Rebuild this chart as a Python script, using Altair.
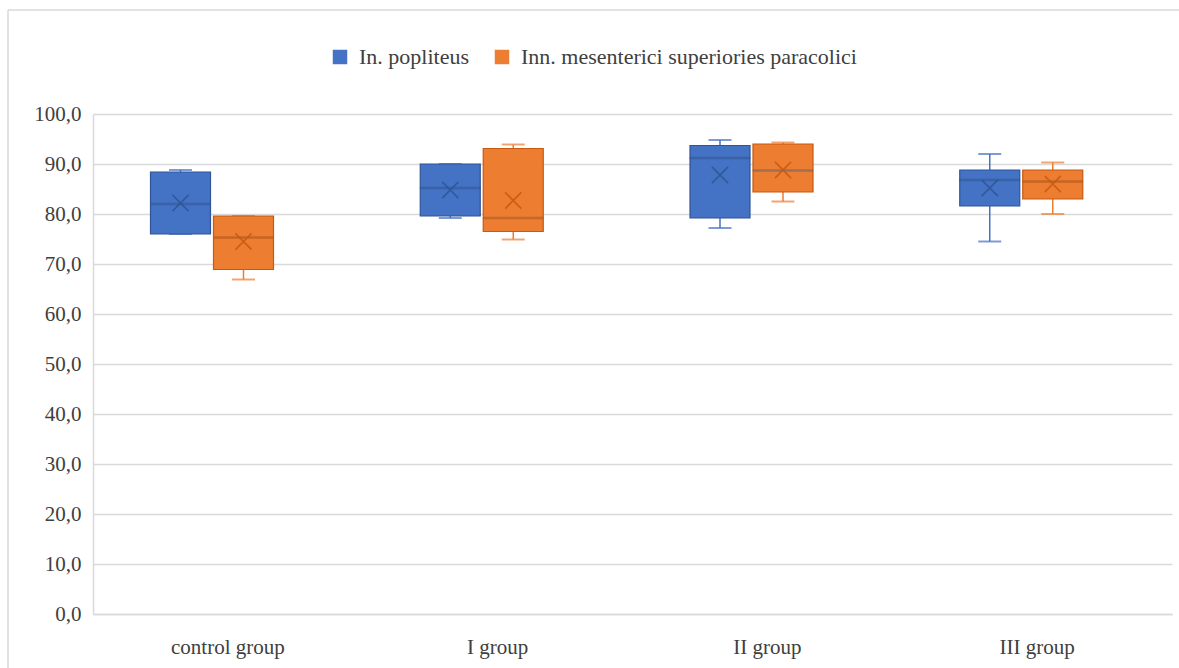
import altair as alt
import pandas as pd

groups = ["control group", "I group", "II group", "III group"]
series = ["In. popliteus", "Inn. mesenterici superiories paracolici"]

# In. popliteus
pop_min = [76.0, 79.2, 77.2, 74.5]
pop_q1 = [76.0, 79.6, 79.2, 81.6]
pop_med = [82.0, 85.2, 91.2, 86.8]
pop_q3 = [88.4, 90.0, 93.7, 88.8]
pop_max = [88.8, 90.0, 94.8, 92.0]
pop_mean = [82.2, 84.8, 87.8, 85.2]

# Inn. mesenterici superiories paracolici
mes_min = [66.9, 74.9, 82.5, 80.0]
mes_q1 = [68.9, 76.5, 84.4, 83.0]
mes_med = [75.3, 79.2, 88.7, 86.5]
mes_q3 = [79.6, 93.1, 94.0, 88.8]
mes_max = [79.6, 93.9, 94.3, 90.3]
mes_mean = [74.5, 82.7, 88.8, 86.0]

rows = []
for s, arrs in [(series[0], (pop_min, pop_q1, pop_med, pop_q3, pop_max, pop_mean)),
                (series[1], (mes_min, mes_q1, mes_med, mes_q3, mes_max, mes_mean))]:
    for i, g in enumerate(groups):
        rows.append({"group": g, "series": s, "lo": arrs[0][i], "q1": arrs[1][i],
                     "med": arrs[2][i], "q3": arrs[3][i], "hi": arrs[4][i], "mean": arrs[5][i]})
df = pd.DataFrame(rows)

FONT = "Liberation Serif"
TXT = "#404040"
FS = 21
fill_colors = ["#4472C4", "#ED7D31"]
dark_colors = ["#2F5597", "#C55A11"]

x = alt.X("group:N", sort=groups, title=None,
          scale=alt.Scale(paddingInner=0, paddingOuter=0),
          axis=alt.Axis(labelAngle=0, ticks=False, domainColor="#d9d9d9", domainWidth=1.5,
                        labelPadding=22, labelFontSize=FS, labelFont=FONT, labelColor=TXT))
xo = alt.XOffset("series:N", sort=series,
                 scale=alt.Scale(type="band", range=[56, 182], paddingInner=0, paddingOuter=0))
ysc = alt.Scale(domain=[0, 100])
yaxis = alt.Axis(values=list(range(0, 101, 10)), format=".1f",
                 labelExpr="replace(datum.label, '.', ',')",
                 ticks=False, domain=True, domainColor="#d9d9d9", domainWidth=1.5,
                 gridColor="#d9d9d9", gridWidth=1.5,
                 labelPadding=12, labelFontSize=FS, labelFont=FONT, labelColor=TXT)
stroke_dark = alt.Stroke("series:N", sort=series,
                         scale=alt.Scale(domain=series, range=dark_colors), legend=None)
color_fill = alt.Color("series:N", sort=series,
                       scale=alt.Scale(domain=series, range=fill_colors),
                       legend=alt.Legend(title=None, orient="none", direction="horizontal",
                                         legendX=236, legendY=-68, symbolType="square",
                                         symbolSize=210, symbolStrokeWidth=0,
                                         symbolOpacity=1, labelLimit=600,
                                         labelFont=FONT, labelFontSize=22, labelColor=TXT,
                                         columnPadding=22, labelOffset=8))

base = alt.Chart(df)

whisk = base.mark_rule(strokeWidth=1.5).encode(
    x=x, xOffset=xo, y=alt.Y("lo:Q", scale=ysc, axis=yaxis, title=None), y2="hi:Q",
    color=color_fill)

cap_lo = base.mark_tick(orient="horizontal", size=23, thickness=2).encode(
    x=x, xOffset=xo, y=alt.Y("lo:Q", scale=ysc), color=color_fill)
cap_hi = base.mark_tick(orient="horizontal", size=23, thickness=2).encode(
    x=x, xOffset=xo, y=alt.Y("hi:Q", scale=ysc), color=color_fill)

box = base.mark_bar(size=60, strokeWidth=1.2).encode(
    x=x, xOffset=xo, y=alt.Y("q1:Q", scale=ysc), y2="q3:Q",
    color=color_fill, stroke=stroke_dark)

median = base.mark_tick(orient="horizontal", size=60, thickness=1.5).encode(
    x=x, xOffset=xo, y=alt.Y("med:Q", scale=ysc), stroke=stroke_dark)

mean = base.mark_point(shape="M-1,-1L1,1M-1,1L1,-1", size=260, filled=False,
                       strokeWidth=1.6, opacity=0.85).encode(
    x=x, xOffset=xo, y=alt.Y("mean:Q", scale=ysc), stroke=stroke_dark)

frame_top = alt.Chart(pd.DataFrame({"a": [0]})).mark_rule(color="#d9d9d9", strokeWidth=1.5).encode(
    x=alt.value(-85), x2=alt.value(1100), y=alt.value(-104))
frame_left = alt.Chart(pd.DataFrame({"a": [0]})).mark_rule(color="#d9d9d9", strokeWidth=1.5).encode(
    x=alt.value(-85), y=alt.value(-104), y2=alt.value(560))

chart = alt.layer(whisk, cap_lo, cap_hi, box, median, mean, frame_top, frame_left).properties(
    width=1079, height=500,
    autosize=alt.AutoSizeParams(type="none"),
    padding={"left": 93, "top": 114, "right": 7, "bottom": 54},
    background="white",
).configure_view(stroke=None)

chart.save("out.html", embed_options={"renderer": "svg", "actions": False})
